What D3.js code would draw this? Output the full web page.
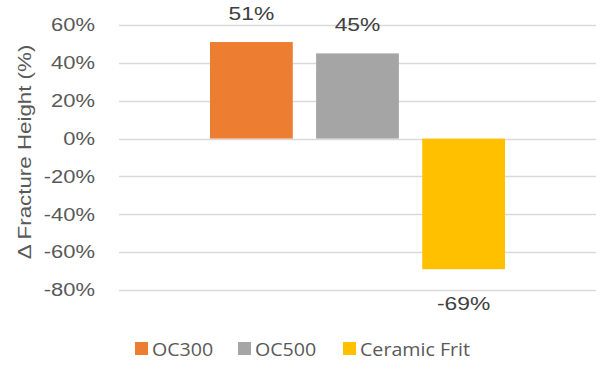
<!DOCTYPE html>
<html>
<head>
<meta charset="utf-8">
<script src="https://cdn.jsdelivr.net/npm/d3@7"></script>
<style>
  body { margin: 0; background: #fff; }
</style>
</head>
<body>
<div id="chart"></div>
<script>
// data
var series = ['OC300', 'OC500', 'Ceramic Frit'];
var values = [0.51, 0.45, -0.69];
var labels = ['51%', '45%', '-69%'];
var yTicks = [0.6, 0.4, 0.2, 0, -0.2, -0.4, -0.6, -0.8];
var colors = ['#ED7D31', '#A5A5A5', '#FFC000'];

var pic_width = 600,
    pic_height = 370;

var margin = { top: 25, right: 4, bottom: 80, left: 119 };
var width = pic_width - margin.left - margin.right,
    height = pic_height - margin.top - margin.bottom;

// the original text is a little wider than Arial, so stretch it
function stretch(sel, k) {
  sel.each(function() {
    var l = this.getComputedTextLength();
    d3.select(this)
      .attr('textLength', l * k)
      .attr('lengthAdjust', 'spacingAndGlyphs');
  });
}

var svg = d3.select('#chart').append('svg')
    .attr('width', pic_width)
    .attr('height', pic_height)
    .style('font-family', 'Liberation Sans, Arial, sans-serif');

var g = svg.append('g')
    .attr('transform', 'translate(' + margin.left + ',' + margin.top + ')');

// y scale: 60% at top gridline, -80% at bottom gridline
var yScale = d3.scaleLinear().domain([0.6, -0.8]).range([0, 265]);

// single category, bars grouped around the centre
var groupWidth = 295;
var xScale = d3.scaleBand()
    .domain(series)
    .range([(width - groupWidth) / 2, (width + groupWidth) / 2])
    .paddingInner(0.22)
    .paddingOuter(0);

// gridlines
g.selectAll('line.grid').data(yTicks)
  .enter().append('line')
    .attr('class', 'grid')
    .attr('x1', 0).attr('x2', width)
    .attr('y1', function(d) { return Math.round(yScale(d)) + 0.5; })
    .attr('y2', function(d) { return Math.round(yScale(d)) + 0.5; })
    .style('stroke', '#d9d9d9')
    .style('stroke-width', 1.3);

// y axis labels
var yAxis = d3.axisLeft(yScale)
    .tickValues(yTicks)
    .tickFormat(function(d) { return Math.round(d * 100) + '%'; })
    .tickSize(0)
    .tickPadding(24);

var yg = g.append('g').call(yAxis);
yg.select('.domain').remove();
yg.selectAll('text')
    .style('font-family', 'Liberation Sans, Arial, sans-serif')
    .style('font-size', '18px')
    .style('fill', '#595959')
    .call(stretch, 1.22);

// bars
g.selectAll('rect.bar').data(values)
  .enter().append('rect')
    .attr('class', 'bar')
    .attr('x', function(d, i) { return xScale(series[i]); })
    .attr('width', xScale.bandwidth())
    .attr('y', function(d) { return yScale(Math.max(0, d)); })
    .attr('height', function(d) { return Math.abs(yScale(d) - yScale(0)); })
    .style('fill', function(d, i) { return colors[i]; });

// data labels
g.selectAll('text.lbl').data(values)
  .enter().append('text')
    .attr('class', 'lbl')
    .attr('x', function(d, i) { return xScale(series[i]) + xScale.bandwidth() / 2; })
    .attr('y', function(d) { return d >= 0 ? yScale(d) - 22 : yScale(d) + 41; })
    .attr('text-anchor', 'middle')
    .style('font-size', '19px')
    .style('fill', '#404040')
    .text(function(d, i) { return labels[i]; })
    .call(stretch, 1.2);

// y axis title
svg.append('text')
    .attr('transform', 'translate(31,152) rotate(-90)')
    .attr('text-anchor', 'middle')
    .style('font-size', '18px')
    .style('fill', '#595959')
    .text('\u0394 Fracture Height (%)')
    .call(stretch, 1.24);

// legend
var legendX = [135, 238, 343];
var legend = svg.selectAll('g.legend').data(series)
  .enter().append('g')
    .attr('class', 'legend')
    .attr('transform', function(d, i) { return 'translate(' + legendX[i] + ',342)'; });

legend.append('rect')
    .attr('width', 13).attr('height', 13)
    .style('fill', function(d, i) { return colors[i]; });

legend.append('text')
    .attr('x', 17)
    .attr('y', 14)
    .style('font-family', 'Open Sans, sans-serif')
    .style('font-size', '18px')
    .style('fill', '#595959')
    .text(function(d) { return d; })
    .call(stretch, 1.09);
</script>
</body>
</html>
